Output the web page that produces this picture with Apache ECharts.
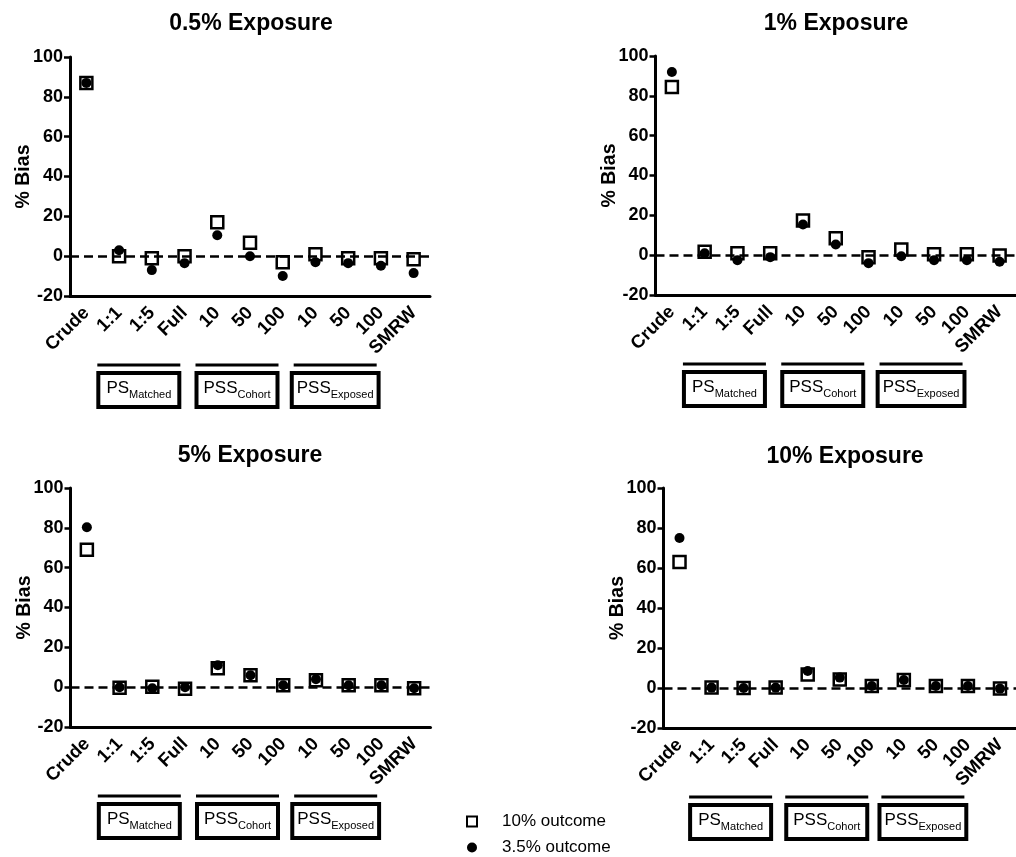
<!DOCTYPE html>
<html>
<head>
<meta charset="utf-8">
<script src="https://cdn.jsdelivr.net/npm/echarts@6/dist/echarts.min.js"></script>
<style>
html, body { margin: 0; background: #fff; }
#main { width: 1016px; height: 857px; }
</style>
</head>
<body>
<div id="main"></div>
<script>
// x categories, same for every panel
var cats = ['Crude', '1:1', '1:5', 'Full', '10', '50', '100', '10', '50', '100', 'SMRW'];
var titles = ['0.5% Exposure', '1% Exposure', '5% Exposure', '10% Exposure'];

// 10% outcome (open squares)
var sq05 = [87, 0, -1, 0, 17, 6.7, -3, 1, -1, -1, -1.5];
var sq1 = [84.4, 1.7, 1, 1, 17.4, 8.5, -1, 2.8, 0.5, 0.5, -0.2];
var sq5 = [69, -0.3, 0.2, -0.8, 9.5, 6, 1, 3.5, 1, 1, -0.5];
var sq10 = [63, 0.2, 0, 0.2, 6.7, 4.2, 1, 4, 1, 1, -0.3];

// 3.5% outcome (filled circles)
var ci05 = [87, 3, -7, -3.5, 10.5, 0, -10, -3, -3.5, -4.8, -8.5];
var ci1 = [92, 1, -2.5, -1, 15.4, 5.4, -4, -0.5, -2.5, -2.5, -3.3];
var ci5 = [80.3, 0, -0.5, 0, 11, 6, 1, 4, 1, 1, -0.5];
var ci10 = [75, 0.2, 0, 0.2, 8.5, 5.2, 1, 4, 1, 1, -0.3];

// method groups shown under the axis
var groups = [
    { main: 'PS', sub: 'Matched', from: 1, to: 3 },
    { main: 'PSS', sub: 'Cohort', from: 4, to: 6 },
    { main: 'PSS', sub: 'Exposed', from: 7, to: 9 }
];

var squares = [sq05, sq1, sq5, sq10];
var circles = [ci05, ci1, ci5, ci10];

var FONT = '"Liberation Sans", Arial, Helvetica, sans-serif';

var grids = [
    { left: 70, top: 57, width: 360, height: 239 },
    { left: 655.5, top: 56, width: 361, height: 239 },
    { left: 70.5, top: 488, width: 360, height: 239 },
    { left: 663.5, top: 488, width: 361, height: 240 }
];
var titlePos = [[246, 7], [831, 7], [245, 439], [840, 440]];

var chart = echarts.init(document.getElementById('main'));

function toPairs(arr) {
    return arr.map(function (v, i) { return [i, v]; });
}

var xAxes = [], yAxes = [], series = [], titleList = [];
for (var g = 0; g < 4; g++) {
    titleList.push({
        text: titles[g],
        left: titlePos[g][0],
        top: titlePos[g][1],
        textAlign: 'center',
        textStyle: { fontFamily: FONT, fontSize: 23, fontWeight: 'bold', color: '#000' }
    });
    xAxes.push({
        type: 'category',
        gridIndex: g,
        data: cats,
        boundaryGap: true,
        axisLine: { onZero: false, lineStyle: { color: '#000', width: 3 } },
        axisTick: { alignWithLabel: true, length: 6, lineStyle: { color: '#000', width: 2.5 } },
        axisLabel: {
            rotate: 45, interval: 0, margin: 14,
            fontFamily: FONT, fontSize: 18.5, fontWeight: 'bold', color: '#000'
        },
        splitLine: { show: false }
    });
    yAxes.push({
        type: 'value',
        gridIndex: g,
        min: -20, max: 100, interval: 20,
        name: '% Bias',
        nameLocation: 'middle',
        nameGap: 36,
        nameMoveOverlap: false,
        nameTextStyle: { fontFamily: FONT, fontSize: 19.5, fontWeight: 'bold', color: '#000' },
        axisLine: { show: true, lineStyle: { color: '#000', width: 3 } },
        axisTick: { show: true, length: 6, lineStyle: { color: '#000', width: 2.5 } },
        axisLabel: { margin: 7, fontFamily: FONT, fontSize: 18, fontWeight: 'bold', color: '#000' },
        splitLine: { show: false }
    });
    // dashed zero line, kept under the markers
    series.push({
        name: 'zero',
        type: 'scatter',
        xAxisIndex: g, yAxisIndex: g,
        data: [],
        z: 1,
        markLine: {
            silent: true,
            symbol: 'none',
            label: { show: false },
            lineStyle: { color: '#000', width: 2.5, type: [9, 5] },
            data: [{ yAxis: 0 }]
        }
    });
    series.push({
        name: '10% outcome',
        type: 'scatter',
        xAxisIndex: g, yAxisIndex: g,
        symbol: 'rect',
        symbolSize: 12,
        z: 3,
        itemStyle: { color: '#fff', borderColor: '#000', borderWidth: 2.5, opacity: 1 },
        data: toPairs(squares[g])
    });
    series.push({
        name: '3.5% outcome',
        type: 'scatter',
        xAxisIndex: g, yAxisIndex: g,
        symbol: 'circle',
        symbolSize: 10,
        z: 4,
        itemStyle: { color: '#000', opacity: 1 },
        data: toPairs(circles[g])
    });
}

chart.setOption({
    animation: false,
    backgroundColor: '#fff',
    title: titleList,
    grid: grids,
    xAxis: xAxes,
    yAxis: yAxes,
    legend: {
        left: 466, top: 813,
        orient: 'vertical',
        selectedMode: false,
        itemWidth: 10, itemHeight: 10,
        itemGap: 9,
        padding: 0,
        textStyle: { fontFamily: FONT, fontSize: 17, color: '#000', padding: [0, 0, 0, 20] },
        data: [{ name: '10% outcome', icon: 'rect' }, { name: '3.5% outcome', icon: 'circle' }]
    },
    series: series
});

// brackets + boxed group labels, placed from the category axis
var ctx = document.createElement('canvas').getContext('2d');
function textW(str, size) {
    ctx.font = size + 'px "Liberation Sans"';
    return ctx.measureText(str).width;
}

var gfx = [];
for (var g = 0; g < 4; g++) {
    var base = chart.convertToPixel({ gridIndex: g }, [0, -20])[1];
    groups.forEach(function (grp) {
        var x1 = chart.convertToPixel({ gridIndex: g }, [grp.from, 0])[0];
        var x2 = chart.convertToPixel({ gridIndex: g }, [grp.to, 0])[0];
        var cx = (x1 + x2) / 2 - 13;
        var lineY = base + 69;
        var boxTop = base + 77;
        var w1 = textW(grp.main, 17);
        var w2 = textW(grp.sub, 11);
        var bw = Math.max(81, w1 + w2 + 10);
        gfx.push({
            type: 'line',
            shape: { x1: cx - 41.5, y1: lineY, x2: cx + 41.5, y2: lineY },
            style: { stroke: '#000', lineWidth: 3 }
        });
        gfx.push({
            type: 'rect',
            shape: { x: cx - bw / 2, y: boxTop, width: bw, height: 34 },
            style: { fill: '#fff', stroke: '#000', lineWidth: 4 }
        });
        var sx = cx - (w1 + w2) / 2;
        gfx.push({
            type: 'text',
            x: sx, y: boxTop + 15,
            style: { text: grp.main, fill: '#000', font: '17px ' + FONT, align: 'left', verticalAlign: 'middle' }
        });
        gfx.push({
            type: 'text',
            x: sx + w1, y: boxTop + 22,
            style: { text: grp.sub, fill: '#000', font: '11px ' + FONT, align: 'left', verticalAlign: 'middle' }
        });
    });
}
chart.setOption({ graphic: gfx });
</script>
</body>
</html>
